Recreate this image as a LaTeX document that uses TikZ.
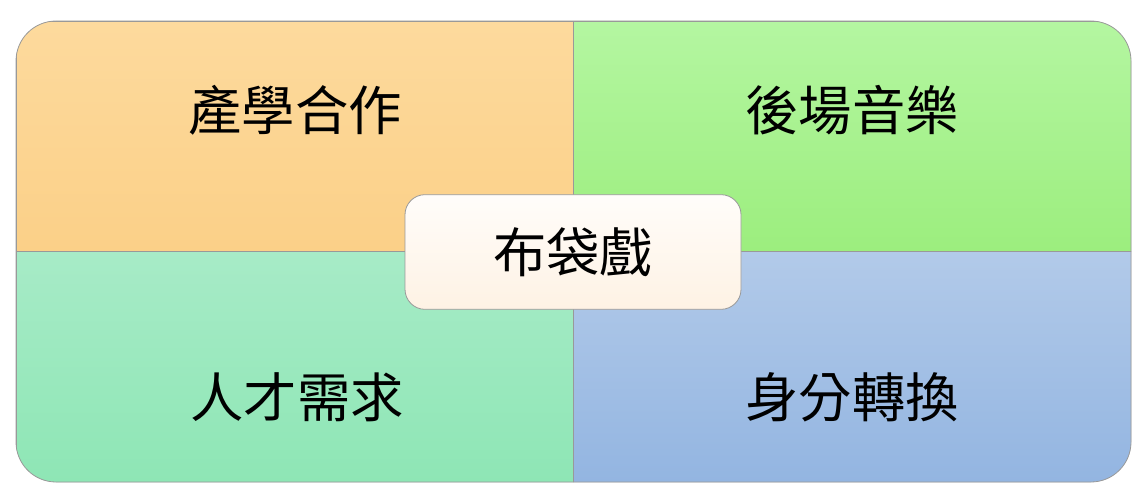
\documentclass[tikz,border=0pt]{standalone}
\usepackage{fontspec}
\newfontfamily\cjk{Noto Sans CJK TC}
\definecolor{tlTop}{HTML}{FDDA9D}
\definecolor{tlBot}{HTML}{FBD088}
\definecolor{trTop}{HTML}{B4F6A1}
\definecolor{trBot}{HTML}{9CEE7E}
\definecolor{blTop}{HTML}{A7EBC7}
\definecolor{blBot}{HTML}{8EE6B5}
\definecolor{brTop}{HTML}{B2CAE9}
\definecolor{brBot}{HTML}{93B5E1}
\definecolor{hubTop}{HTML}{FFFDFA}
\definecolor{hubBot}{HTML}{FEF2E4}

\begin{document}
\begin{tikzpicture}[x={(0.75pt,0)}, y={(0,-0.75pt)}, line join=round,
  quad/.style={draw=black!40, line width=0.6pt},
  topic/.style={font=\cjk\fontsize{40}{48}\selectfont, inner sep=0pt},
  hub/.style={draw=black!40, line width=0.6pt, rounded corners=15pt,
    top color=hubTop, bottom color=hubBot,
    minimum width=252pt, minimum height=86pt, inner sep=0pt,
    font=\cjk\fontsize{40}{48}\selectfont}]
  \useasboundingbox (0,0) rectangle (1148,502);
  % quadrants
  \begin{scope}
    \clip[rounded corners=30pt] (16,21) rectangle (1131,482);
    \foreach \xa/\ya/\xb/\yb/\ct/\cb in {16/21/573/251/tlTop/tlBot, 573/21/1131/251/trTop/trBot,
        16/251/573/482/blTop/blBot, 573/251/1131/482/brTop/brBot} {
      \shade[top color=\ct, bottom color=\cb] (\xa,\ya) rectangle (\xb,\yb);
      \draw[quad] (\xa,\ya) rectangle (\xb,\yb);
    }
  \end{scope}
  \draw[quad, rounded corners=30pt] (16,21) rectangle (1131,482);
  % topics
  \node[topic] (coop) at (295,110) {產學合作};
  \node[topic] (music) at (852,110) {後場音樂};
  \node[topic] (talent) at (297,397) {人才需求};
  \node[topic] (role) at (852,397) {身分轉換};
  % centre
  \node[hub] (puppet) at (573,252) {布袋戲};
\end{tikzpicture}
\end{document}
